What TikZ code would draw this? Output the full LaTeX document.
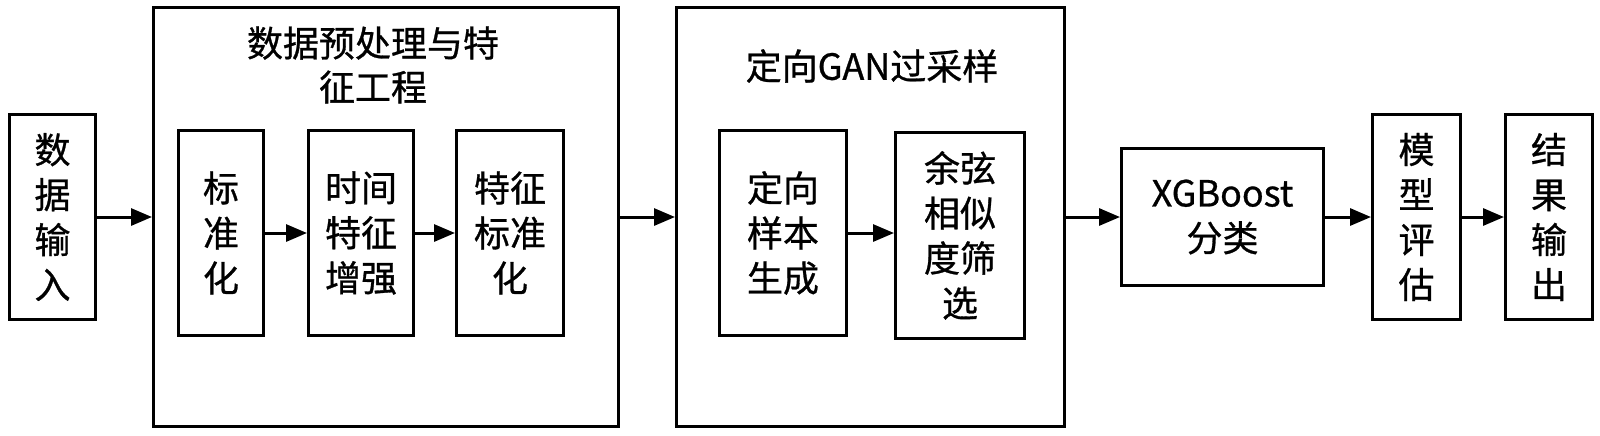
\documentclass[tikz,border=0pt]{standalone}
\usepackage{fontspec}
\setmainfont{Noto Sans CJK SC}[UprightFeatures={FakeBold=0.8}]
\usetikzlibrary{positioning,arrows.meta}
\definecolor{ink}{HTML}{000000}

\begin{document}
\begin{tikzpicture}[
    every node/.style={font=\fontsize{18pt}{22.5pt}\selectfont, text=ink},
    blk/.style={draw=ink, align=center, inner sep=2pt, line width=1.7pt},
    grp/.style={draw=ink, line width=1.7pt},
    ttl/.style={align=center, font=\fontsize{18pt}{22pt}\selectfont},
    flow/.style={-{Triangle[length=10.5pt, width=8.5pt]}, draw=ink, line width=1.5pt},
  ]
  \useasboundingbox (0,-109pt) rectangle (800pt,108.5pt);

  % data input, at the left
  \node[blk, minimum width=42.8pt, minimum height=102.3pt] (in) at (26.25pt,0) {数\\据\\输\\入};

  % preprocessing and feature engineering
  \node[grp, minimum width=232.3pt, minimum height=209.3pt, right=27.5pt of in] (pre) {};
  \node[ttl] (pret) at ([xshift=-6.5pt, yshift=-29.5pt]pre.north) {数据预处理与特\\征工程};
  \node[blk, minimum width=42.3pt, minimum height=102.3pt, right=12.5pt of pre.west, yshift=-8pt] (norm) {标\\准\\化};
  \node[blk, minimum width=52.3pt, minimum height=102.3pt, right=21pt of norm] (time) {时间\\特征\\增强};
  \node[blk, minimum width=53.3pt, minimum height=102.3pt, right=20pt of time] (fnorm) {特征\\标准\\化};

  \draw[flow] (norm) -- (time);
  \draw[flow] (time) -- (fnorm);

  % directed GAN oversampling
  \node[grp, minimum width=193.8pt, minimum height=209.3pt, right=27.5pt of pre] (gan) {};
  \node[ttl] (gant) at ([xshift=0.75pt, yshift=-30pt]gan.north) {定向GAN过采样};
  \node[blk, minimum width=63.3pt, minimum height=102.3pt, right=21.5pt of gan.west, yshift=-8pt] (gen) {定向\\样本\\生成};
  \node[blk, minimum width=64.3pt, minimum height=102.8pt, right=23pt of gen, yshift=-1.2pt] (cos) {余弦\\相似\\度筛\\选};

  \draw[flow] (gen.east) -- (gen.east -| cos.west);

  % classifier, evaluation and output
  \node[blk, minimum width=100.8pt, minimum height=68.3pt, right=27pt of gan] (xgb) {XGBoost\\分类};
  \node[blk, minimum width=43.8pt, minimum height=102.3pt, right=23pt of xgb] (eval) {模\\型\\评\\估};
  \node[blk, minimum width=43.3pt, minimum height=102.3pt, right=21pt of eval] (out) {结\\果\\输\\出};

  \draw[flow] (in) -- (pre);
  \draw[flow] (pre) -- (gan);
  \draw[flow] (gan) -- (xgb);
  \draw[flow] (xgb) -- (eval);
  \draw[flow] (eval) -- (out);
\end{tikzpicture}
\end{document}
